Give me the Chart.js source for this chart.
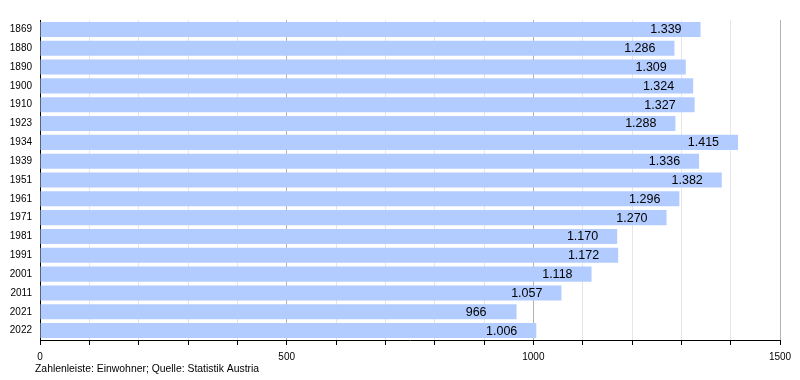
<!DOCTYPE html>
<html><head><meta charset="utf-8">
<script src="https://cdn.jsdelivr.net/npm/chart.js@4"></script>
<style>html,body{margin:0;padding:0;background:#fff}#wrap{width:800px;height:380px;position:relative}</style>
</head><body><div id="wrap"><canvas id="c" width="800" height="380"></canvas></div>
<script>
const years = ["1869","1880","1890","1900","1910","1923","1934","1939","1951","1961","1971","1981","1991","2001","2011","2021","2022"];
const population = [1339,1286,1309,1324,1327,1288,1415,1336,1382,1296,1270,1170,1172,1118,1057,966,1006];
const valueLabels = ["1.339","1.286","1.309","1.324","1.327","1.288","1.415","1.336","1.382","1.296","1.270","1.170","1.172","1.118","1.057","966","1.006"];
const xTickLabels = ["0","500","1000","1500"];
const footnote = "Zahlenleiste: Einwohner; Quelle: Statistik Austria";
const FONT = "'Liberation Sans', Arial, sans-serif";

const labelPlugin = {
  id: 'barLabels',
  afterDatasetsDraw(chart) {
    const ctx = chart.ctx;
    const meta = chart.getDatasetMeta(0);
    ctx.save();
    ctx.font = "12.5px " + FONT;
    ctx.fillStyle = "#000";
    ctx.textAlign = "right";
    ctx.textBaseline = "middle";
    meta.data.forEach((bar, i) => {
      const off = population[i] < 1000 ? 30 : 19;
      ctx.fillText(valueLabels[i], bar.x - off, bar.y + 0.5);
    });
    ctx.restore();
  }
};
const footPlugin = {
  id: 'foot',
  afterDraw(chart) {
    const ctx = chart.ctx;
    ctx.save();
    ctx.font = "10.4px " + FONT;
    ctx.fillStyle = "#000";
    ctx.textAlign = "left";
    ctx.textBaseline = "middle";
    ctx.fillText(footnote, 35, 369);
    ctx.restore();
  }
};

new Chart(document.getElementById('c'), {
  type: 'bar',
  data: { labels: years, datasets: [{ data: population, backgroundColor: '#b3ccff', borderWidth: 0, barPercentage: 0.8, categoryPercentage: 1.0 }] },
  options: {
    indexAxis: 'y',
    responsive: false,
    animation: false,
    layout: { padding: { left: 0, right: 20, top: 20, bottom: 0 } },
    plugins: { legend: { display: false }, tooltip: { enabled: false } },
    scales: {
      x: {
        min: 0, max: 1500,
        afterFit(s) { s.height = 40; },
        ticks: {
          stepSize: 100, autoSkip: false, maxRotation: 0, padding: 6,
          font: { family: FONT, size: 10 }, color: '#000',
          callback(v) { return v % 500 === 0 ? xTickLabels[v / 500] : ''; }
        },
        grid: {
          color(c) { return c.tick && c.tick.value % 500 === 0 ? '#b3b3b3' : '#e6e6e6'; },
          tickColor: '#000', tickLength: 5, drawTicks: true
        },
        border: { display: true, color: '#000', width: 1 }
      },
      y: {
        afterFit(s) { s.width = 40; },
        ticks: { font: { family: FONT, size: 10 }, color: '#000', padding: 8 },
        grid: { display: false, drawTicks: false },
        border: { display: true, color: '#000', width: 1 }
      }
    }
  },
  plugins: [labelPlugin, footPlugin]
});
</script></body></html>
